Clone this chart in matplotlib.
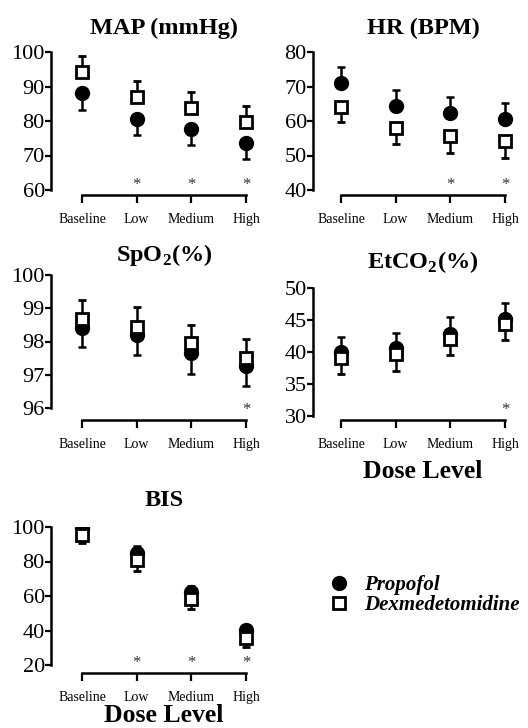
import numpy as np
import matplotlib
matplotlib.use("Agg")
import matplotlib.pyplot as plt

plt.rcParams['font.family'] = ['Liberation Serif', 'DejaVu Serif']
plt.rcParams['mathtext.fontset'] = 'custom'
plt.rcParams['mathtext.rm'] = 'Liberation Serif'
plt.rcParams['mathtext.bf'] = 'Liberation Serif:bold'

doses = ['Baseline', 'Low', 'Medium', 'High']

# mean and SD
map_prop = [88.1, 80.7, 77.8, 73.7]
map_prop_sd = [4.8, 4.8, 4.8, 4.8]
map_dex = [94.2, 87.0, 83.8, 79.8]
map_dex_sd = [4.6, 4.6, 4.6, 4.6]

hr_prop = [71.0, 64.4, 62.2, 60.7]
hr_prop_sd = [4.7, 4.7, 4.7, 4.6]
hr_dex = [64.2, 58.1, 55.6, 54.3]
hr_dex_sd = [4.6, 4.8, 4.8, 4.9]

spo2_prop = [98.40, 98.20, 97.65, 97.27]
spo2_prop_sd = [0.58, 0.62, 0.63, 0.62]
spo2_dex = [98.68, 98.45, 97.95, 97.50]
spo2_dex_sd = [0.58, 0.58, 0.55, 0.58]

etco2_prop = [40.0, 40.6, 42.8, 45.1]
etco2_prop_sd = [2.3, 2.3, 2.6, 2.6]
etco2_dex = [39.1, 39.7, 42.1, 44.3]
etco2_dex_sd = [2.6, 2.6, 2.6, 2.4]

bis_prop = [99.5, 84.9, 62.3, 40.3]
bis_prop_sd = [3.5, 4.0, 3.5, 3.0]
bis_dex = [95.4, 80.9, 58.3, 35.6]
bis_dex_sd = [4.6, 6.4, 5.8, 5.2]

# (title, prop, prop_sd, dex, dex_sd, prop error up?, ylim, yticks, starred doses)
panels = [
    ('MAP (mmHg)', map_prop, map_prop_sd, map_dex, map_dex_sd, False,
     (60, 100), [60, 70, 80, 90, 100], [1, 2, 3]),
    ('HR (BPM)', hr_prop, hr_prop_sd, hr_dex, hr_dex_sd, True,
     (40, 80), [40, 50, 60, 70, 80], [2, 3]),
    (r'SpO$_\mathbf{2}$(%)', spo2_prop, spo2_prop_sd, spo2_dex, spo2_dex_sd, False,
     (96, 100), [96, 97, 98, 99, 100], [3]),
    (r'EtCO$_\mathbf{2}$(%)', etco2_prop, etco2_prop_sd, etco2_dex, etco2_dex_sd, True,
     (30, 50), [30, 35, 40, 45, 50], [3]),
    ('BIS', bis_prop, bis_prop_sd, bis_dex, bis_dex_sd, True,
     (20, 100), [20, 40, 60, 80, 100], [1, 2, 3]),
]

W, H = 528, 728
PX = 54.7  # pixels per dose step
# pixel boxes: spine x, first tick x, top, bottom, x-axis offset, title gap
boxes = [
    (51, 82, 52, 190, 5, 24),
    (313, 341, 52, 190, 5, 24),
    (51, 82, 275, 408, 12, 20),
    (313, 341, 288, 416, 4, 26),
    (51, 82, 527, 665, 8, 27),
]

fig = plt.figure(figsize=(W / 100, H / 100), dpi=100)
pt = 0.72  # points per pixel

handles = None
for (title, prop, psd, dex, dsd, prop_up, ylim, yticks, stars), box in zip(panels, boxes):
    l, x_first, t, b, off, tgap = box
    x0 = -(x_first - l) / PX
    x1 = 3.25
    r = l + (x1 - x0) * PX
    ax = fig.add_axes([l / W, 1 - b / H, (r - l) / W, (b - t) / H])
    x = np.arange(len(doses))
    z = np.zeros(len(doses))
    pe = [z, psd] if prop_up else [psd, z]
    de = [dsd, z] if prop_up else [z, dsd]
    hp = ax.errorbar(x, prop, yerr=pe, fmt='o', color='black', ms=10,
                     elinewidth=1.8, capsize=3, capthick=1.8, zorder=3)
    hd = ax.errorbar(x, dex, yerr=de, fmt='s', mfc='white', mec='black', mew=2,
                     color='black', ms=9, elinewidth=1.8, capsize=3, capthick=1.8,
                     zorder=4)
    handles = [hp[0], hd[0]]

    ax.set_xlim(x0, x1)
    ax.set_ylim(*ylim)
    ax.set_yticks(yticks)
    ax.set_xticks(x)
    ax.set_xticklabels(doses, fontsize=12)
    ax.tick_params(axis='y', labelsize=16, width=1.6, length=4, pad=0.5)
    ax.tick_params(axis='x', width=1.6, length=6, pad=7)
    for s in ['top', 'right']:
        ax.spines[s].set_visible(False)
    ax.spines['left'].set_linewidth(1.8)
    ax.spines['bottom'].set_linewidth(1.8)
    ax.spines['bottom'].set_position(('outward', off * pt))
    ax.spines['bottom'].set_bounds(0, 3)
    ax.patch.set_visible(False)

    for i in stars:
        ax.annotate('*', xy=(i, 0), xycoords=('data', 'axes fraction'),
                    xytext=(0, (10 - off) * pt), textcoords='offset points',
                    ha='center', va='center', fontsize=12, color='#333333')

    ax.annotate(title, xy=(1.5, 1), xycoords=('data', 'axes fraction'),
                xytext=(0, tgap * pt), textcoords='offset points',
                ha='center', va='center', fontsize=17.5, fontweight='bold')

    if title.startswith('EtCO') or title == 'BIS':
        lab_y = 471 if title != 'BIS' else 716
        fig.text((x_first + 1.5 * PX) / W, 1 - lab_y / H, 'Dose Level',
                 ha='center', va='center', fontsize=18.5, fontweight='bold')

fig.legend(handles, ['Propofol', 'Dexmedetomidine'], loc='center left',
           bbox_to_anchor=(318 / W, 1 - 595 / H), frameon=False,
           handlelength=1.0, handletextpad=0.7, labelspacing=0.0,
           borderpad=0, prop={'size': 15, 'weight': 'bold', 'style': 'italic'})

fig.savefig('out.png', dpi=100)
